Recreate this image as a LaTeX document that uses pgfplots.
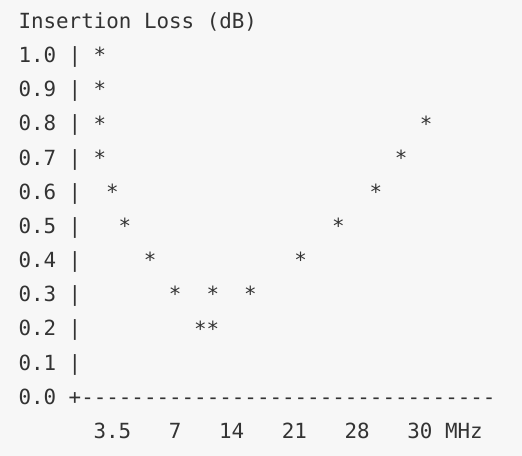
\documentclass[border=0pt]{standalone}
\usepackage{fontspec}
\setmonofont{DejaVu Sans Mono}
\usepackage{pgfplots}
\pgfplotsset{compat=1.18}
\definecolor{bgc}{HTML}{F7F7F7}
\definecolor{txt}{HTML}{333333}
\newcommand\mf{\fontsize{20.85bp}{24bp}\ttfamily}
\begin{document}
\begin{tikzpicture}
\begin{axis}[
  at={(0,0)}, anchor=south west,
  scale only axis, width=522bp, height=456bp,
  xmin=-1.960, xmax=39.633,
  ymin=-0.1739, ymax=1.1613,
  clip=false,
  axis line style={draw=none},
  tick style={draw=none},
  major tick length=0pt,
  axis background/.style={fill=bgc},
  ytick={0,0.1,0.2,0.3,0.4,0.5,0.6,0.7,0.8,0.9,1.0},
  yticklabels={0.0 +---------------------------------,0.1 |,0.2 |,0.3 |,0.4 |,0.5 |,0.6 |,0.7 |,0.8 |,0.9 |,1.0 |},
  yticklabel style={font=\mf, text=txt, anchor=base west, inner sep=0pt, xshift=18.32bp, yshift=-7.6bp},
  xtick={7,12,16.5,21.5,26.5,33.5},
  xticklabels={3.5,7,14,21,28,30 MHz},
  xticklabel style={font=\mf, text=txt, anchor=base, inner sep=0pt, yshift=17.6bp},
  title={Insertion Loss (dB)},
  every axis title/.style={font=\mf, text=txt, at={(axis description cs:0.0351,0.9541)}, anchor=base west, inner sep=0pt, yshift=-7.6bp},
]
\addplot[only marks, mark=text, text mark={*}, text mark as node=true,
  text mark style={font=\mf, text=txt, anchor=center, inner sep=0pt}]
  coordinates {
  (6,1.0)(6,0.9)(6,0.8)(6,0.7)(7,0.6)(8,0.5)(10,0.4)(12,0.3)
  (14,0.2)(15,0.2)(15,0.3)(18,0.3)(22,0.4)(25,0.5)(28,0.6)(30,0.7)(32,0.8)
  };
\end{axis}
\end{tikzpicture}
\end{document}
